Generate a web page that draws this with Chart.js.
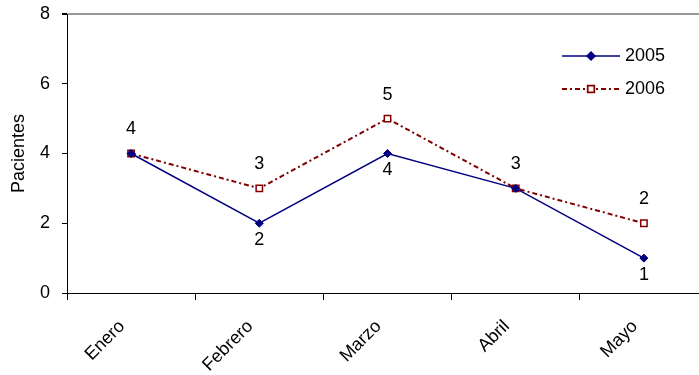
<!DOCTYPE html>
<html>
<head>
<meta charset="utf-8">
<script src="https://cdn.jsdelivr.net/npm/chart.js@4/dist/chart.umd.min.js"></script>
<style>
  html, body { margin: 0; padding: 0; background: #fff; overflow: hidden; }
  #wrap { width: 714px; height: 375px; position: relative; }
</style>
</head>
<body>
<div id="wrap"><canvas id="c"></canvas></div>
<script>
// Monthly patient counts
const months = ['Enero', 'Febrero', 'Marzo', 'Abril', 'Mayo'];
const patients2005 = [4, 2, 4, 3, 1];
const patients2006 = [4, 3, 5, 3, 2];
const yTicks = [0, 2, 4, 6, 8];

const FONT = 'Arial, "Liberation Sans", sans-serif';
const NAVY = '#000080';
const MAROON = '#800000';

// Value labels: 2006 above its points, 2005 below (skipped where both coincide)
const valueLabels = {
  id: 'valueLabels',
  afterDatasetsDraw(chart) {
    const ctx = chart.ctx;
    ctx.save();
    ctx.font = '18px ' + FONT;
    ctx.fillStyle = '#000';
    ctx.textAlign = 'center';
    ctx.textBaseline = 'middle';
    const m05 = chart.getDatasetMeta(0).data;
    const m06 = chart.getDatasetMeta(1).data;
    patients2006.forEach((v, i) => {
      ctx.fillText(String(v), m06[i].x, m06[i].y - 24);
    });
    patients2005.forEach((v, i) => {
      if (v === patients2006[i]) return;
      ctx.fillText(String(v), m05[i].x, m05[i].y + 17);
    });
    ctx.restore();
  }
};

// Legend drawn inside the plot area, upper right
const innerLegend = {
  id: 'innerLegend',
  afterDraw(chart) {
    const ctx = chart.ctx;
    const a = chart.chartArea;
    const x0 = a.right - 146, x1 = a.right - 88;
    const rows = [{ y: 56, ds: 0 }, { y: 89, ds: 1 }];
    ctx.save();
    rows.forEach(r => {
      const ds = chart.data.datasets[r.ds];
      ctx.beginPath();
      ctx.strokeStyle = ds.borderColor;
      ctx.lineWidth = ds.borderWidth;
      ctx.setLineDash(ds.borderDash || []);
      ctx.moveTo(x0, r.y);
      ctx.lineTo(x1, r.y);
      ctx.stroke();
      ctx.setLineDash([]);
      Chart.helpers.drawPoint(ctx, {
        pointStyle: ds.pointStyle,
        radius: ds.pointRadius,
        borderWidth: ds.pointBorderWidth
      }, (x0 + x1) / 2, r.y);
      ctx.fillStyle = ds.pointBackgroundColor;
      ctx.strokeStyle = ds.pointBorderColor;
      ctx.lineWidth = ds.pointBorderWidth;
      ctx.fill();
      ctx.stroke();
      ctx.font = '18px ' + FONT;
      ctx.fillStyle = '#000';
      ctx.textAlign = 'left';
      ctx.textBaseline = 'middle';
      ctx.fillText(ds.label, x1 + 5, r.y);
    });
    ctx.restore();
  }
};

new Chart(document.getElementById('c'), {
  type: 'line',
  data: {
    labels: months,
    datasets: [
      {
        label: '2005',
        data: patients2005,
        borderColor: NAVY,
        borderWidth: 1.5,
        pointStyle: 'rectRot',
        pointRadius: 4,
        pointBackgroundColor: NAVY,
        pointBorderColor: NAVY,
        pointBorderWidth: 1,
        tension: 0
      },
      {
        label: '2006',
        data: patients2006,
        borderColor: MAROON,
        borderWidth: 2,
        borderDash: [5, 3, 2, 3],
        pointStyle: 'rect',
        pointRadius: 4.5,
        pointBackgroundColor: '#fff',
        pointBorderColor: MAROON,
        pointBorderWidth: 1.5,
        tension: 0
      }
    ]
  },
  options: {
    responsive: true,
    maintainAspectRatio: false,
    animation: false,
    devicePixelRatio: 1,
    layout: { padding: { top: 14, right: 0, left: 0, bottom: 0 } },
    plugins: { legend: { display: false }, tooltip: { enabled: false } },
    scales: {
      x: {
        type: 'category',
        offset: true,
        border: { color: '#000', width: 1 },
        grid: { offset: true, drawOnChartArea: false, tickLength: 7, color: '#000' },
        ticks: {
          color: '#000',
          font: { family: FONT, size: 18 },
          minRotation: 45,
          maxRotation: 45,
          padding: 16,
          labelOffset: -9
        },
        afterFit(scale) {
          scale.height = 82;
          scale.paddingLeft = 0;
          scale.paddingRight = 0;
        }
      },
      y: {
        min: 0,
        max: 8,
        afterBuildTicks(scale) { scale.ticks = yTicks.map(v => ({ value: v })); },
        border: { color: '#000', width: 1 },
        grid: {
          drawOnChartArea: true,
          color: c => (c.tick && c.tick.value === 8 ? '#999' : 'rgba(0,0,0,0)'),
          lineWidth: c => (c.tick && c.tick.value === 8 ? 2 : 1),
          tickColor: '#000',
          tickLength: 5
        },
        ticks: {
          color: '#000',
          font: { family: FONT, size: 18 },
          padding: 12
        },
        title: {
          display: true,
          text: 'Pacientes',
          color: '#000',
          font: { family: FONT, size: 18 },
          padding: { top: 8, bottom: 0 }
        },
        afterFit(scale) {
          scale.width = 67;
          scale.paddingTop = 0;
          scale.paddingBottom = 0;
        }
      }
    }
  },
  plugins: [valueLabels, innerLegend]
});
</script>
</body>
</html>
